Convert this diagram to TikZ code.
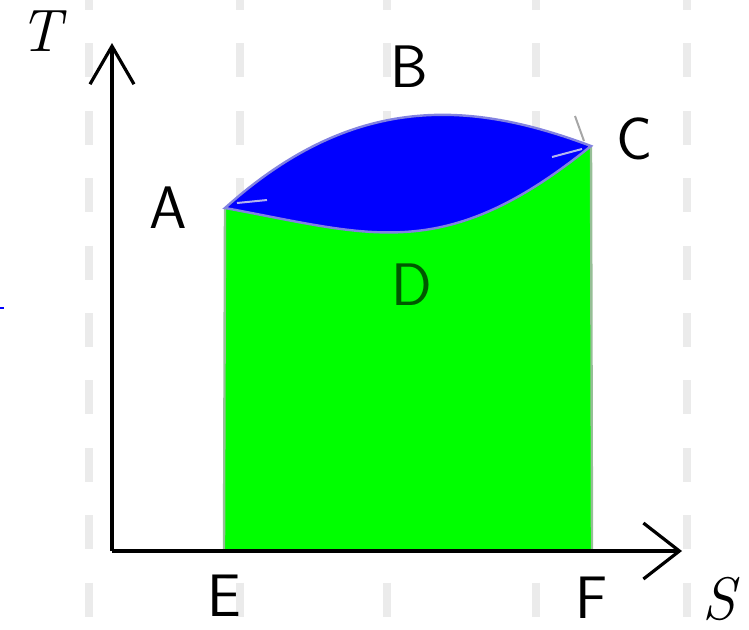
\documentclass[tikz,border=0pt]{standalone}
\usepackage{fontspec}
\usepackage{tikz}
\usetikzlibrary{arrows.meta}
\definecolor{areagreen}{RGB}{0,255,0}
\definecolor{areablue}{RGB}{0,0,255}
\definecolor{rimgreen}{RGB}{150,190,150}
\definecolor{rimblue}{RGB}{130,130,225}
\definecolor{gridgray}{RGB}{235,235,235}

\begin{document}
\begin{tikzpicture}[x=0.5pt, y=-0.5pt,
    axisline/.style={line width=1.6pt, black},
    gridline/.style={gridgray, line width=4pt, dash pattern=on 17pt off 16.7pt},
    ptlabel/.style={inner sep=0pt, font=\fontsize{30}{36}\selectfont\sffamily},
    varlabel/.style={inner sep=0pt, font=\fontsize{30}{36}\selectfont\itshape},
    rim/.style={line width=1.2pt}]

    \useasboundingbox (0,0) rectangle (749,629);

    \foreach \cx in {89,240,387,536,687}
        \draw[gridline] (\cx,-24) -- (\cx,640);

    \coordinate (O) at (112,551);
    \coordinate (Ttip) at (112,43);
    \coordinate (Stip) at (682,551);
    \coordinate (A) at (225,208);
    \coordinate (C) at (591,146);
    \coordinate (E) at (224,551);
    \coordinate (F) at (592,551);

    \fill[areagreen] (E) -- (A) .. controls (372,235) and (444,265) .. (C) -- (F) -- cycle;
    \draw[rimgreen, rim] (E) -- (A);
    \draw[rimgreen, rim] (C) -- (F);
    \filldraw[fill=areablue, draw=rimblue, rim] (A) .. controls (353,93) and (469,100) .. (C)
        .. controls (444,265) and (372,235) .. (A) -- cycle;
    \draw[rimblue!60!white, line width=1pt] (237,203) -- (267,200);
    \draw[rimblue!60!white, line width=1pt] (552,157) -- (582,149);
    \draw[gray!70, line width=1pt] (575,116) -- (584,141);

    \draw[axisline, -{Straight Barb[length=19pt, width=22pt]}] (O) -- (Ttip);
    \draw[axisline, -{Straight Barb[length=18pt, width=28pt]}] (O) -- (Stip);
    \draw[blue, line width=1pt] (0,308) -- (4,308);

    \node[varlabel] (lT) at (40,31) {T};
    \node[varlabel] (lS) at (719,599) {S};
    \node[ptlabel] (lA) at (168,208) {A};
    \node[ptlabel] (lB) at (409,67) {B};
    \node[ptlabel] (lC) at (635,139) {C};
    \node[ptlabel, text=green!35!black] (lD) at (412,285) {D};
    \node[ptlabel] (lE) at (224,596) {E};
    \node[ptlabel] (lF) at (592,598) {F};
\end{tikzpicture}
\end{document}
